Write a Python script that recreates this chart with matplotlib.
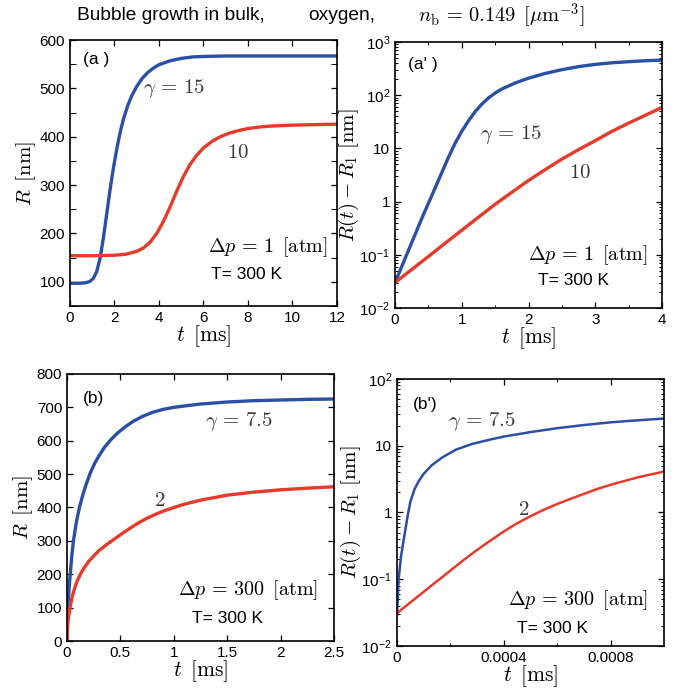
import math
import matplotlib.pyplot as plt
from matplotlib.ticker import FixedLocator, FuncFormatter, LogLocator, NullFormatter

plt.rcParams['font.family'] = 'Liberation Sans'
plt.rcParams['mathtext.fontset'] = 'cm'

BLUE = '#2c4fa6'
RED = '#e63a2b'
LBL = '#3a3a3a'

# (a) Delta p = 1 atm, R vs t
t_a_blue = [0, 0.4, 0.7, 0.9, 1.05, 1.2, 1.35, 1.5, 1.65, 1.8, 1.95, 2.1, 2.25, 2.4, 2.6,
            2.8, 3.0, 3.25, 3.5, 3.75, 4.0, 4.5, 5.0, 5.5, 6.0, 7, 8, 10, 12]
R_a_blue = [97, 97, 98, 101, 107, 121, 148, 190, 240, 290, 335, 374, 408, 436, 465,
            487, 504, 521, 533, 542, 549, 557, 562, 565, 566, 567, 567, 567, 567]
t_a_red = [0, 1, 2, 2.5, 3.0, 3.3, 3.6, 3.9, 4.2, 4.5, 4.8, 5.1, 5.4, 5.7, 6.0, 6.4,
           6.8, 7.2, 7.6, 8.0, 8.5, 9, 10, 11, 12]
R_a_red = [154, 154, 155, 157, 163, 170, 182, 200, 225, 255, 288, 318, 343, 362, 377, 391,
           401, 408, 413, 417, 420, 422, 424, 425, 426]

# (a') R(t) - R1, log scale
t_ap_blue = [0, 0.2, 0.4, 0.6, 0.8, 0.9, 1.0, 1.1, 1.2, 1.3, 1.4, 1.5, 1.6, 1.8, 2.0,
             2.25, 2.5, 2.75, 3.0, 3.25, 3.5, 3.75, 4.0]
dR_ap_blue = [0.03, 0.12, 0.48, 1.8, 6.8, 12.5, 21, 33, 49, 68, 89, 110, 131, 170, 209,
              257, 302, 345, 380, 407, 427, 445, 457]
t_ap_red = [0, 0.25, 0.5, 0.75, 1.0, 1.25, 1.5, 1.75, 2.0, 2.25, 2.5, 2.75, 3.0, 3.25,
            3.5, 3.75, 4.0]
dR_ap_red = [0.03, 0.053, 0.093, 0.165, 0.29, 0.51, 0.89, 1.5, 2.5, 4.0, 6.3, 9.5, 14,
             21, 30, 42, 59]

# (b) Delta p = 300 atm, R vs t
t_b_blue = [0, 0.003, 0.01, 0.02, 0.03, 0.045, 0.06, 0.09, 0.12, 0.15, 0.18, 0.22, 0.26,
            0.3, 0.35, 0.41, 0.47, 0.55, 0.62, 0.7, 0.8, 0.9, 1.0, 1.12, 1.25, 1.5,
            1.75, 2.0, 2.25, 2.5]
R_b_blue = [5, 60, 110, 160, 200, 255, 300, 360, 405, 440, 470, 505, 533, 555, 580, 603,
            622, 643, 658, 672, 685, 694, 700, 705, 710, 716, 720, 722, 724, 725]
t_b_red = [0, 0.003, 0.01, 0.02, 0.035, 0.05, 0.075, 0.1, 0.125, 0.15, 0.175, 0.2, 0.25,
           0.3, 0.375, 0.45, 0.525, 0.6, 0.675, 0.75, 0.825, 0.9, 1.0, 1.1, 1.25, 1.5,
           1.75, 2.0, 2.25, 2.5]
R_b_red = [5, 35, 62, 85, 112, 135, 162, 183, 200, 214, 226, 237, 255, 271, 290, 307,
           324, 340, 355, 368, 379, 389, 400, 410, 422, 437, 446, 453, 458, 462]

# (b') R(t) - R1, log scale
t_bp_blue = [0, 0.000006, 0.000015, 0.000025, 0.00004, 0.00005, 0.000065, 0.00008,
             0.0001, 0.00013, 0.00017, 0.00022, 0.00028, 0.00035, 0.0004, 0.0005,
             0.0006, 0.0007, 0.0008, 0.0009, 0.001]
dR_bp_blue = [0.03, 0.1, 0.22, 0.39, 0.9, 1.45, 2.2, 2.9, 3.8, 5.1, 6.7, 8.7, 10.6,
              12.4, 13.7, 16, 18.3, 20.4, 22.4, 24, 25.5]
t_bp_red = [0, 0.0001, 0.0002, 0.00025, 0.0003, 0.00035, 0.0004, 0.00045, 0.0005,
            0.00055, 0.0006, 0.00065, 0.0007, 0.00075, 0.0008, 0.0009, 0.001]
dR_bp_red = [0.031, 0.065, 0.135, 0.195, 0.275, 0.38, 0.52, 0.69, 0.88, 1.1, 1.34,
             1.6, 1.9, 2.25, 2.6, 3.35, 4.1]


def log_label(v, pos):
    e = int(round(math.log10(v)))
    if e == 0:
        return '1'
    if e == 1:
        return '10'
    return r'$\mathdefault{10^{%d}}$' % e


def style(ax):
    ax.tick_params(direction='in', which='both', top=True, right=True, labelsize=11)
    ax.tick_params(which='major', length=4, width=0.9)
    ax.tick_params(which='minor', length=2, width=0.7)
    for s in ax.spines.values():
        s.set_linewidth(1.2)


def notes(ax, panel, pxy, dp, dpxy, txy):
    ax.text(pxy[0], pxy[1], panel, transform=ax.transAxes, fontsize=12.5, va='center')
    ax.text(dpxy[0], dpxy[1], dp, transform=ax.transAxes, fontsize=14.5,
            ha='right', va='center')
    ax.text(txy[0], txy[1], 'T= 300 K', transform=ax.transAxes, fontsize=12.5,
            va='center')


fig = plt.figure(figsize=(6.9, 6.9), dpi=100)

ax1 = fig.add_axes([0.1014, 0.5565, 0.387, 0.3855])
ax2 = fig.add_axes([0.5725, 0.5536, 0.387, 0.3855])
ax3 = fig.add_axes([0.0971, 0.0710, 0.387, 0.387])
ax4 = fig.add_axes([0.5754, 0.0638, 0.387, 0.387])

xlab = r'$t\ \,[\mathrm{ms}]$'
ylab_lin = r'$R\ \,[\mathrm{nm}]$'
ylab_log = r'$R(t) - R_1\ [\mathrm{nm}]$'

# (a)
ax1.plot(t_a_blue, R_a_blue, color=BLUE, lw=2.4)
ax1.plot(t_a_red, R_a_red, color=RED, lw=2.4)
ax1.set_xlim(0, 12)
ax1.set_ylim(50, 600)
ax1.set_xticks(range(0, 13, 2))
ax1.set_yticks(range(100, 601, 100))
ax1.yaxis.set_minor_locator(FixedLocator(range(50, 600, 100)))
ax1.set_ylabel(ylab_lin, fontsize=15, labelpad=1)
ax1.set_xlabel(xlab, fontsize=15.5, labelpad=-1)
ax1.text(3.28, 500, r'$\gamma\,=\,15$', color=LBL, fontsize=15, va='center')
ax1.text(7.05, 368, r'$10$', color=LBL, fontsize=15, va='center')
notes(ax1, '(a )', (0.05, 0.925), r'$\Delta p\,=\,1\ \,[\mathrm{atm}]$',
      (0.966, 0.222), (0.53, 0.117))

# (a')
ax2.plot(t_ap_blue, dR_ap_blue, color=BLUE, lw=2.4)
ax2.plot(t_ap_red, dR_ap_red, color=RED, lw=2.4)
ax2.set_yscale('log')
ax2.set_xlim(0, 4)
ax2.set_ylim(1e-2, 1e3)
ax2.set_xticks(range(0, 5))
ax2.xaxis.set_minor_locator(FixedLocator([0.5, 1.5, 2.5, 3.5]))
ax2.yaxis.set_major_locator(LogLocator(base=10, numticks=10))
ax2.yaxis.set_major_formatter(FuncFormatter(log_label))
ax2.yaxis.set_minor_formatter(NullFormatter())
ax2.set_ylabel(ylab_log, fontsize=15, labelpad=-1)
ax2.set_xlabel(xlab, fontsize=15.5, labelpad=-1)
ax2.text(1.27, 17.9, r'$\gamma\,=\,15$', color=LBL, fontsize=15, va='center')
ax2.text(2.6, 3.6, r'$10$', color=LBL, fontsize=15, va='center')
notes(ax2, "(a' )", (0.049, 0.914), r'$\Delta p\,=\,1\ \,[\mathrm{atm}]$',
      (0.948, 0.2), (0.536, 0.105))

# (b)
ax3.plot(t_b_blue, R_b_blue, color=BLUE, lw=2.4)
ax3.plot(t_b_red, R_b_red, color=RED, lw=2.4)
ax3.set_xlim(0, 2.5)
ax3.set_ylim(0, 800)
ax3.set_xticks([0, 0.5, 1, 1.5, 2, 2.5])
ax3.set_xticklabels(['0', '0.5', '1', '1.5', '2', '2.5'])
ax3.set_yticks(range(0, 801, 100))
ax3.set_ylabel(ylab_lin, fontsize=15, labelpad=1)
ax3.set_xlabel(xlab, fontsize=15.5, labelpad=-1)
ax3.text(1.29, 657, r'$\gamma\,=\,7.5$', color=LBL, fontsize=15, va='center')
ax3.text(0.81, 422, r'$2$', color=LBL, fontsize=15, va='center')
notes(ax3, '(b)', (0.06, 0.91), r'$\Delta p\,=\,300\ \,[\mathrm{atm}]$',
      (0.94, 0.191), (0.468, 0.086))

# (b')
ax4.plot(t_bp_blue, dR_bp_blue, color=BLUE, lw=1.8)
ax4.plot(t_bp_red, dR_bp_red, color=RED, lw=1.8)
ax4.set_yscale('log')
ax4.set_xlim(0, 0.001)
ax4.set_ylim(1e-2, 1e2)
ax4.set_xticks([0, 0.0004, 0.0008])
ax4.set_xticklabels(['0', '0.0004', '0.0008'])
ax4.xaxis.set_minor_locator(FixedLocator([0.0002, 0.0006]))
ax4.yaxis.set_major_locator(LogLocator(base=10, numticks=10))
ax4.yaxis.set_major_formatter(FuncFormatter(log_label))
ax4.yaxis.set_minor_formatter(NullFormatter())
ax4.set_ylabel(ylab_log, fontsize=15, labelpad=-1)
ax4.set_xlabel(xlab, fontsize=15.5, labelpad=-1)
ax4.text(0.000191, 22.9, r'$\gamma\,=\,7.5$', color=LBL, fontsize=15, va='center')
ax4.text(0.000453, 1.09, r'$2$', color=LBL, fontsize=15, va='center')
notes(ax4, "(b')", (0.06, 0.903), r'$\Delta p\,=\,300\ \,[\mathrm{atm}]$',
      (0.94, 0.172), (0.45, 0.067))

for ax in (ax1, ax2, ax3, ax4):
    style(ax)
ax1.tick_params(which='minor', length=4)
ax3.tick_params(which='minor', length=4)

# heading
fig.text(77 / 690, 0.977, 'Bubble growth in bulk,', fontsize=13.8, va='center')
fig.text(308 / 690, 0.977, 'oxygen,', fontsize=13.8, va='center')
fig.text(418 / 690, 0.977, r'$n_{\mathrm{b}}\,=\,0.149\ \,[\mu\mathrm{m}^{-3}]$',
         fontsize=14.7, va='center')

fig.savefig('out.png', dpi=100)
